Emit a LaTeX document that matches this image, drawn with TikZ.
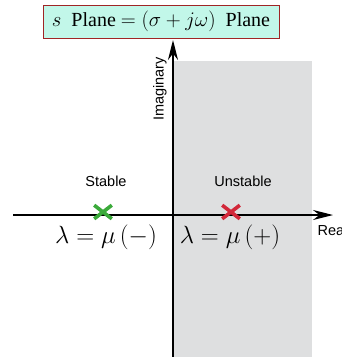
\documentclass[tikz,border=0pt]{standalone}
\usepackage{fontspec}
\setmainfont{Liberation Serif}
\setsansfont{Liberation Sans}
\usepackage{tikz}
\usetikzlibrary{arrows.meta,positioning,shapes.misc}
\definecolor{boxfill}{HTML}{C2F7E9}
\definecolor{boxline}{HTML}{A02525}
\definecolor{halfgray}{HTML}{DEDFE0}
\definecolor{stablegreen}{HTML}{3BAA3A}
\definecolor{unstablered}{HTML}{D2283A}

\begin{document}
\begin{tikzpicture}[x=1pt, y=-1pt,
  >={Stealth[length=20pt, width=10pt]},
  axis/.style={->, line width=1.3pt},
  titlebox/.style={draw=boxline, line width=1pt, fill=boxfill, minimum width=236pt,
                   minimum height=33pt, inner sep=0pt, font=\fontsize{20}{22}\selectfont},
  region/.style={font=\sffamily\fontsize{14.5}{16}\selectfont},
  eig/.style={font=\fontsize{27}{30}\selectfont},
  pole/.style={cross out, line width=3.6pt, minimum width=14pt, minimum height=10pt,
               inner sep=0pt}]
  \useasboundingbox (0,0) rectangle (342,357);
  % right half plane
  \fill[halfgray] (174,61) rectangle (312,357);
  \node[titlebox] (title) at (161,21.5)
     {$s$\ \ Plane $=\left(\sigma + j\omega\right)$\ \ Plane};
  % axes
  \coordinate (ybot) at (173,357);
  \coordinate (ytop) at (173,40);
  \coordinate (xleft) at (13,215);
  \coordinate (xright) at (333,215);
  \draw[axis] (ybot) -- (ytop);
  \draw[axis] (xleft) -- (xright);
  \node[region, rotate=90] (imag) at (160,89) {Imaginary};
  \node[region, anchor=west] (real) at (314,230) {Real};
  \node[region] (stable) at (106,181) {Stable};
  \node[region] (unstable) at (243,181) {Unstable};
  % eigenvalues
  \node[pole, draw=stablegreen] (lneg) at (103,212) {};
  \node[pole, draw=unstablered] (lpos) at (231,212) {};
  \node[eig] (eneg) at (106,237) {$\lambda=\mu\,(-)$};
  \node[eig] (epos) at (230,237) {$\lambda=\mu\,(+)$};
\end{tikzpicture}
\end{document}
